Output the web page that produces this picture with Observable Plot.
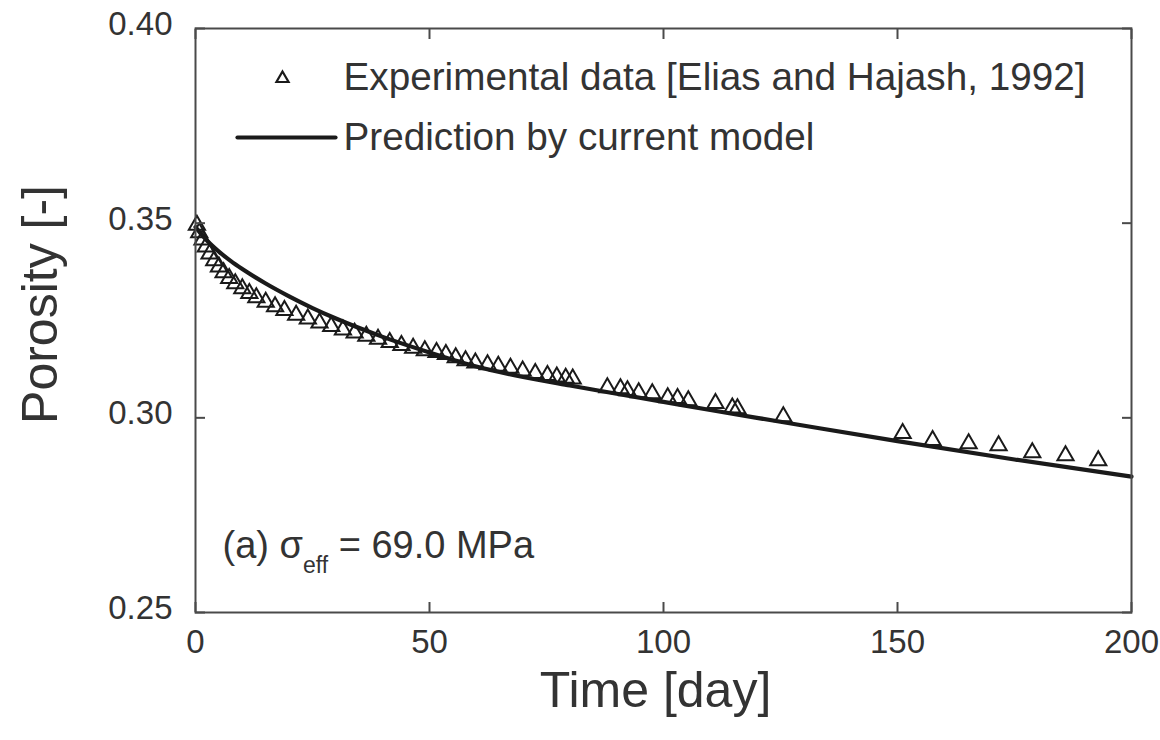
<!DOCTYPE html>
<html>
<head>
<meta charset="utf-8">
<script src="https://cdn.jsdelivr.net/npm/d3@7"></script>
<script src="https://cdn.jsdelivr.net/npm/@observablehq/plot@0.6"></script>
<style>
  html, body { margin: 0; padding: 0; background: #fff; }
  #chart { width: 1160px; height: 740px; }
</style>
</head>
<body>
<div id="chart"></div>
<script>
// ---- Data ----
const expDays = [0.3, 0.8, 1.5, 2.2, 3.0, 4.0, 5.0, 6.0, 7.2, 8.5, 10.0, 11.5, 13.0, 15.0, 17.0, 19.0,
  21.5, 24.0, 26.5, 29.0, 31.5, 34.0, 36.5, 39.0, 41.5, 44.0, 46.5, 49.0, 51.5, 53.5, 55.6, 57.7,
  59.8, 62.4, 64.7, 67.3, 69.9, 72.6, 75.2, 77.2, 79.1, 80.6, 88.0, 90.8, 92.3, 94.7, 97.6, 100.9,
  103.0, 105.3, 111.1, 114.7, 115.8, 125.6, 151.1, 157.5, 165.2, 171.6, 178.8, 185.9, 192.9];
const expPorosity = [0.3495, 0.3476, 0.3457, 0.3439, 0.3421, 0.3404, 0.3388, 0.3373, 0.3358, 0.3345, 0.3332, 0.3320, 0.3309, 0.3297, 0.3286, 0.3276,
  0.3264, 0.3254, 0.3244, 0.3235, 0.3226, 0.3218, 0.3210, 0.3202, 0.3194, 0.3186, 0.3179, 0.3173, 0.3168, 0.3163, 0.3155, 0.3147,
  0.3141, 0.3137, 0.3133, 0.3128, 0.3121, 0.3114, 0.3109, 0.3105, 0.3102, 0.3100, 0.3078, 0.3075, 0.3070, 0.3065, 0.3062, 0.3052,
  0.3050, 0.3044, 0.3037, 0.3026, 0.3024, 0.3003, 0.2960, 0.2942, 0.2934, 0.2929, 0.2911, 0.2903, 0.2890];

const modelDays = [0, 1, 2.5, 5, 7.5, 10, 15, 20, 25, 30, 40, 50, 60, 70, 80, 90, 100, 110, 125, 150, 175, 200];
const modelPorosity = [0.3490, 0.3475, 0.3455, 0.3427, 0.3403, 0.3382, 0.3345, 0.3312, 0.3282, 0.3255, 0.3208, 0.3168,
  0.3132, 0.3105, 0.3083, 0.3062, 0.3041, 0.3020, 0.2990, 0.2940, 0.2893, 0.2849];

const xTicks = [0, 50, 100, 150, 200];
const yTicks = [0.25, 0.30, 0.35, 0.40];
const xLabel = "Time [day]";
const yLabel = "Porosity [-]";
const legendLabels = ["Experimental data [Elias and Hajash, 1992]", "Prediction by current model"];
const annotationParts = ["(a) σ", "eff", " = 69.0 MPa"];

// ---- Tables ----
const expData = expDays.map((d, i) => ({day: d, porosity: expPorosity[i]}));
const modelData = modelDays.map((d, i) => ({day: d, porosity: modelPorosity[i]}));
const annotationText = annotationParts.join("");

const font = "'Liberation Sans', Arial, Helvetica, sans-serif";
const ink = "#1a1a1a";
const textInk = "#333";
const frameInk = "#4a4a4a";

const hLine = {draw(context, l) { context.moveTo(0, 0); context.lineTo(l, 0); }};

const chart = Plot.plot({
  width: 1160,
  height: 740,
  marginLeft: 195,
  marginRight: 29,
  marginTop: 28,
  marginBottom: 128,
  style: {fontFamily: font, color: textInk, background: "#fff", overflow: "visible"},
  x: {domain: [0, 200]},
  y: {domain: [0.25, 0.40]},
  marks: [
    // model prediction
    Plot.line(modelData, {x: "day", y: "porosity", stroke: ink, strokeWidth: 4.2, curve: "monotone-x"}),
    // experimental data
    Plot.dot(expData, {x: "day", y: "porosity", symbol: "triangle", r: 6, stroke: ink, strokeWidth: 2, fill: "none"}),
    // tick labels
    Plot.axisX({ticks: xTicks, tickSize: 0, tickPadding: 17, tickFormat: d => String(d), fontSize: 33, label: null, fill: textInk}),
    Plot.axisY({ticks: yTicks, tickSize: 0, tickPadding: 23, dy: -4, tickFormat: d3.format(".2f"), fontSize: 33, label: null, fill: textInk}),
    // inward ticks on all four sides
    Plot.axisX({ticks: xTicks, anchor: "bottom", tickSize: -10, tickFormat: () => "", label: null, stroke: frameInk, strokeWidth: 2}),
    Plot.axisX({ticks: xTicks, anchor: "top", tickSize: -10, tickFormat: () => "", label: null, stroke: frameInk, strokeWidth: 2}),
    Plot.axisY({ticks: yTicks, anchor: "left", tickSize: -10, tickFormat: () => "", label: null, stroke: frameInk, strokeWidth: 2}),
    Plot.axisY({ticks: yTicks, anchor: "right", tickSize: -10, tickFormat: () => "", label: null, stroke: frameInk, strokeWidth: 2}),
    Plot.frame({stroke: frameInk, strokeWidth: 2}),
    // axis titles
    Plot.text([xLabel], {frameAnchor: "bottom", dx: -8, dy: 78, text: d => d, lineAnchor: "middle", textAnchor: "middle", fontSize: 50, fill: textInk}),
    Plot.text([yLabel], {frameAnchor: "left", dx: -155, dy: -16, rotate: -90, text: d => d, lineAnchor: "middle", textAnchor: "middle", fontSize: 50, fill: textInk}),
    // legend
    Plot.dot([legendLabels[0]], {frameAnchor: "top-left", dx: 87, dy: 50, symbol: "triangle", r: 4.5, stroke: ink, strokeWidth: 2.2, fill: "none"}),
    Plot.text([legendLabels[0]], {frameAnchor: "top-left", dx: 148, dy: 49, text: d => d, lineAnchor: "middle", textAnchor: "start", fontSize: 38.7, fill: textInk}),
    Plot.vector([legendLabels[1]], {frameAnchor: "top-left", dx: 42, dy: 109, length: 98, rotate: 0, anchor: "start", shape: hLine, stroke: ink, strokeWidth: 4.2}),
    Plot.text([legendLabels[1]], {frameAnchor: "top-left", dx: 148, dy: 109, text: d => d, lineAnchor: "middle", textAnchor: "start", fontSize: 38.7, fill: textInk}),
    // annotation
    Plot.text([annotationText], {frameAnchor: "bottom-left", dx: 27, dy: -67, text: d => d, lineAnchor: "middle", textAnchor: "start", fontSize: 38, fill: textInk})
  ]
});

// Rebuild the annotation with a lowered subscript
d3.select(chart).selectAll("text").filter(function() { return this.textContent === annotationText; }).each(function() {
  const t = d3.select(this);
  t.text(null);
  t.append("tspan").text(annotationParts[0]);
  t.append("tspan").attr("font-size", 23).attr("dy", 15).text(annotationParts[1]);
  t.append("tspan").attr("dy", -15).text(annotationParts[2]);
});

document.getElementById("chart").appendChild(chart);
</script>
</body>
</html>
